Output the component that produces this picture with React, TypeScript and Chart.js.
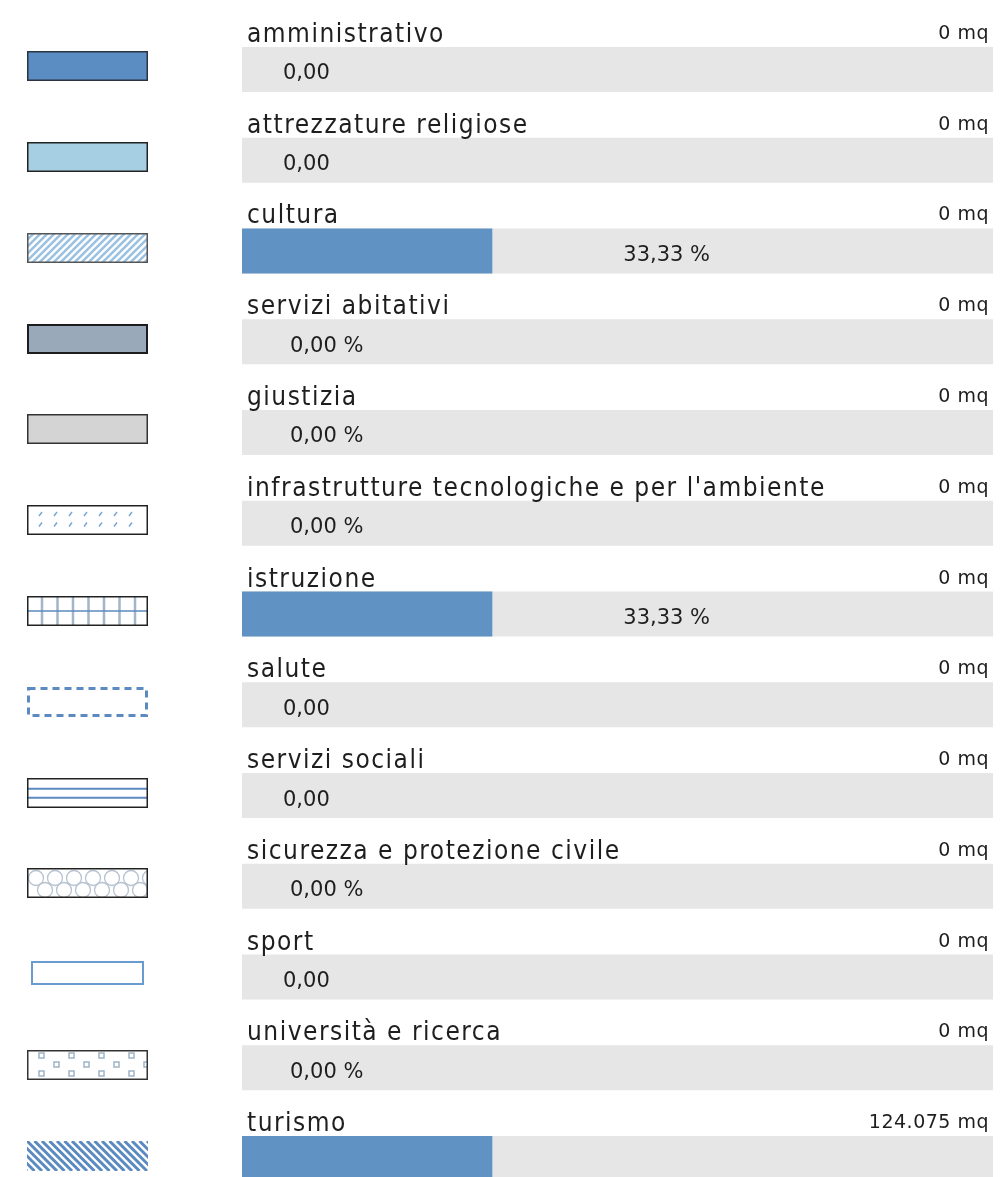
import React, { useEffect, useRef } from "react";
import { Chart, registerables } from "chart.js";

Chart.register(...registerables);

const categories = [
  "amministrativo",
  "attrezzature religiose",
  "cultura",
  "servizi abitativi",
  "giustizia",
  "infrastrutture tecnologiche e per l'ambiente",
  "istruzione",
  "salute",
  "servizi sociali",
  "sicurezza e protezione civile",
  "sport",
  "università e ricerca",
  "turismo",
];

const shareValues = [0, 0, 33.33, 0, 0, 0, 33.33, 0, 0, 0, 0, 0, 33.33];
const totalValues = [100, 100, 100, 100, 100, 100, 100, 100, 100, 100, 100, 100, 100];

const valueLabels = [
  "0,00",
  "0,00",
  "33,33 %",
  "0,00 %",
  "0,00 %",
  "0,00 %",
  "33,33 %",
  "0,00",
  "0,00",
  "0,00 %",
  "0,00",
  "0,00 %",
  "",
];

const areaLabels = [
  "0 mq",
  "0 mq",
  "0 mq",
  "0 mq",
  "0 mq",
  "0 mq",
  "0 mq",
  "0 mq",
  "0 mq",
  "0 mq",
  "0 mq",
  "0 mq",
  "124.075 mq",
];

type Ctx = CanvasRenderingContext2D;

function frame(ctx: Ctx, x: number, y: number, w: number, h: number, color = "#333", lw = 1.5) {
  ctx.save();
  ctx.strokeStyle = color;
  ctx.lineWidth = lw;
  ctx.setLineDash([]);
  ctx.strokeRect(x + lw / 2, y + lw / 2, w - lw, h - lw);
  ctx.restore();
}

function clipRect(ctx: Ctx, x: number, y: number, w: number, h: number) {
  ctx.beginPath();
  ctx.rect(x, y, w, h);
  ctx.clip();
}

function stripes(ctx: Ctx, x: number, y: number, w: number, h: number, color: string, lw: number, step: number, forward: boolean) {
  ctx.save();
  clipRect(ctx, x, y, w, h);
  ctx.strokeStyle = color;
  ctx.lineWidth = lw;
  ctx.beginPath();
  for (let k = -h; k < w + h; k += step) {
    if (forward) {
      ctx.moveTo(x + k, y + h);
      ctx.lineTo(x + k + h, y);
    } else {
      ctx.moveTo(x + k, y);
      ctx.lineTo(x + k + h, y + h);
    }
  }
  ctx.stroke();
  ctx.restore();
}

const painters: ((ctx: Ctx, x: number, y: number, w: number, h: number) => void)[] = [
  (ctx, x, y, w, h) => {
    ctx.fillStyle = "#5b8cc2";
    ctx.fillRect(x, y, w, h);
    frame(ctx, x, y, w, h, "#2a3440", 1.5);
  },
  (ctx, x, y, w, h) => {
    ctx.fillStyle = "#a6cfe4";
    ctx.fillRect(x, y, w, h);
    frame(ctx, x, y, w, h, "#222", 1.5);
  },
  (ctx, x, y, w, h) => {
    ctx.fillStyle = "#ffffff";
    ctx.fillRect(x, y, w, h);
    stripes(ctx, x, y, w, h, "#9cc2e2", 2.5, 7, true);
    frame(ctx, x, y, w, h, "#555", 1.5);
  },
  (ctx, x, y, w, h) => {
    ctx.fillStyle = "#9aa9ba";
    ctx.fillRect(x, y, w, h);
    frame(ctx, x, y, w, h, "#1d1d1d", 2);
  },
  (ctx, x, y, w, h) => {
    ctx.fillStyle = "#d4d4d4";
    ctx.fillRect(x, y, w, h);
    frame(ctx, x, y, w, h, "#333", 1.5);
  },
  (ctx, x, y, w, h) => {
    ctx.fillStyle = "#ffffff";
    ctx.fillRect(x, y, w, h);
    ctx.save();
    ctx.strokeStyle = "#7aa7d6";
    ctx.lineWidth = 1.5;
    ctx.beginPath();
    for (let px = x + 12; px < x + w - 4; px += 15) {
      [y + h * 0.3, y + h * 0.65].forEach((py) => {
        ctx.moveTo(px, py + 2);
        ctx.lineTo(px + 3, py - 2);
      });
    }
    ctx.stroke();
    ctx.restore();
    frame(ctx, x, y, w, h, "#222", 1.5);
  },
  (ctx, x, y, w, h) => {
    ctx.fillStyle = "#ffffff";
    ctx.fillRect(x, y, w, h);
    ctx.save();
    ctx.strokeStyle = "#a3b5c8";
    ctx.lineWidth = 2.5;
    ctx.beginPath();
    for (let px = x + 15; px < x + w - 4; px += 15.5) {
      ctx.moveTo(px, y);
      ctx.lineTo(px, y + h);
    }
    ctx.stroke();
    ctx.strokeStyle = "#5b8ac0";
    ctx.lineWidth = 1.5;
    ctx.beginPath();
    ctx.moveTo(x, y + h / 2);
    ctx.lineTo(x + w, y + h / 2);
    ctx.stroke();
    ctx.restore();
    frame(ctx, x, y, w, h, "#222", 1.5);
  },
  (ctx, x, y, w, h) => {
    ctx.save();
    ctx.strokeStyle = "#5b8ac0";
    ctx.lineWidth = 3;
    ctx.setLineDash([7, 5]);
    ctx.strokeRect(x + 1.5, y + 1.5, w - 3, h - 3);
    ctx.restore();
  },
  (ctx, x, y, w, h) => {
    ctx.fillStyle = "#ffffff";
    ctx.fillRect(x, y, w, h);
    ctx.save();
    ctx.strokeStyle = "#5b8ac0";
    ctx.lineWidth = 2;
    ctx.beginPath();
    ctx.moveTo(x, y + h * 0.36);
    ctx.lineTo(x + w, y + h * 0.36);
    ctx.moveTo(x, y + h * 0.66);
    ctx.lineTo(x + w, y + h * 0.66);
    ctx.stroke();
    ctx.restore();
    frame(ctx, x, y, w, h, "#222", 1.5);
  },
  (ctx, x, y, w, h) => {
    ctx.fillStyle = "#ffffff";
    ctx.fillRect(x, y, w, h);
    ctx.save();
    clipRect(ctx, x, y, w, h);
    ctx.strokeStyle = "#b7c3d0";
    ctx.lineWidth = 1.3;
    for (let row = 0; row < 2; row++) {
      for (let col = 0; col < 8; col++) {
        const cx = x + 9 + col * 19 + (row % 2) * 9;
        const cy = y + 10 + row * 12;
        ctx.beginPath();
        ctx.arc(cx, cy, 7.5, 0, Math.PI * 2);
        ctx.stroke();
      }
    }
    ctx.restore();
    frame(ctx, x, y, w, h, "#222", 1.5);
  },
  (ctx, x, y, w, h) => {
    ctx.fillStyle = "#ffffff";
    ctx.fillRect(x + 4, y + 2, w - 8, h - 6);
    frame(ctx, x + 4, y + 2, w - 8, h - 6, "#6a9bd0", 2);
  },
  (ctx, x, y, w, h) => {
    ctx.fillStyle = "#ffffff";
    ctx.fillRect(x, y, w, h);
    ctx.save();
    clipRect(ctx, x, y, w, h);
    ctx.strokeStyle = "#9fb4c8";
    ctx.lineWidth = 1.5;
    for (let row = 0; row < 3; row++) {
      for (let col = 0; col < 8; col++) {
        const sx = x + 12 + col * 30 + (row % 2) * 15;
        const sy = y + 3 + row * 9;
        ctx.strokeRect(sx, sy, 5, 5);
      }
    }
    ctx.restore();
    frame(ctx, x, y, w, h, "#333", 1.5);
  },
  (ctx, x, y, w, h) => {
    ctx.fillStyle = "#ffffff";
    ctx.fillRect(x, y, w, h);
    stripes(ctx, x, y, w, h, "#5b8ac0", 3, 7.5, false);
  },
];

const overlay = {
  id: "overlay",
  afterDatasetsDraw(chart: any) {
    const ctx: Ctx = chart.ctx;
    const xs = chart.scales.x;
    const ys = chart.scales.y;
    const { left, right } = chart.chartArea;
    const half = 22.5;
    categories.forEach((cat, i) => {
      const yc = ys.getPixelForValue(i);
      const top = yc - half;
      ctx.save();
      ctx.fillStyle = "#1e1e1e";
      ctx.textAlign = "left";
      ctx.textBaseline = "alphabetic";
      ctx.font = "26px 'DejaVu Sans Condensed', 'DejaVu Sans', sans-serif";
      (ctx as any).letterSpacing = "1.5px";
      ctx.fillText(cat, left + 5, top - 5);

      ctx.font = "19px 'DejaVu Sans', sans-serif";
      (ctx as any).letterSpacing = "0.5px";
      ctx.textAlign = "right";
      ctx.fillText(areaLabels[i], right - 4, top - 8);

      ctx.font = "21px 'DejaVu Sans', sans-serif";
      (ctx as any).letterSpacing = "0px";
      ctx.textAlign = "left";
      const v = shareValues[i];
      const lbl = valueLabels[i];
      const tx = v > 0 ? xs.getPixelForValue(v) + 131 : left + (lbl.indexOf("%") >= 0 ? 48 : 41);
      if (lbl) ctx.fillText(lbl, tx, yc + 10);
      ctx.restore();

      ctx.save();
      painters[i](ctx, 19, Math.round(yc - 3 - 15), 121, 30);
      ctx.restore();
    });
  },
};

export default function App() {
  const ref = useRef<HTMLCanvasElement | null>(null);
  useEffect(() => {
    if (!ref.current) return;
    const chart = new Chart(ref.current, {
      type: "bar",
      data: {
        labels: categories,
        datasets: [
          {
            data: shareValues,
            backgroundColor: "#6192c4",
            barThickness: 45,
            grouped: false,
            inflateAmount: 0,
            borderWidth: 0,
            order: 0,
          } as any,
          {
            data: totalValues,
            backgroundColor: "#e6e6e6",
            barThickness: 45,
            grouped: false,
            inflateAmount: 0,
            borderWidth: 0,
            order: 1,
          } as any,
        ],
      },
      options: {
        indexAxis: "y",
        animation: false,
        responsive: true,
        maintainAspectRatio: false,
        layout: { padding: { left: 234, right: 3, top: 16, bottom: 4 } },
        scales: {
          x: { min: 0, max: 100, display: false },
          y: { display: false },
        },
        plugins: {
          legend: { display: false },
          tooltip: { enabled: false },
        },
      },
      plugins: [overlay],
    });
    return () => chart.destroy();
  }, []);

  return (
    <div style={{ width: "100%", height: 1169, overflow: "hidden" }}>
      <div style={{ position: "relative", width: "100%", height: 1200 }}>
        <canvas ref={ref} />
      </div>
    </div>
  );
}
